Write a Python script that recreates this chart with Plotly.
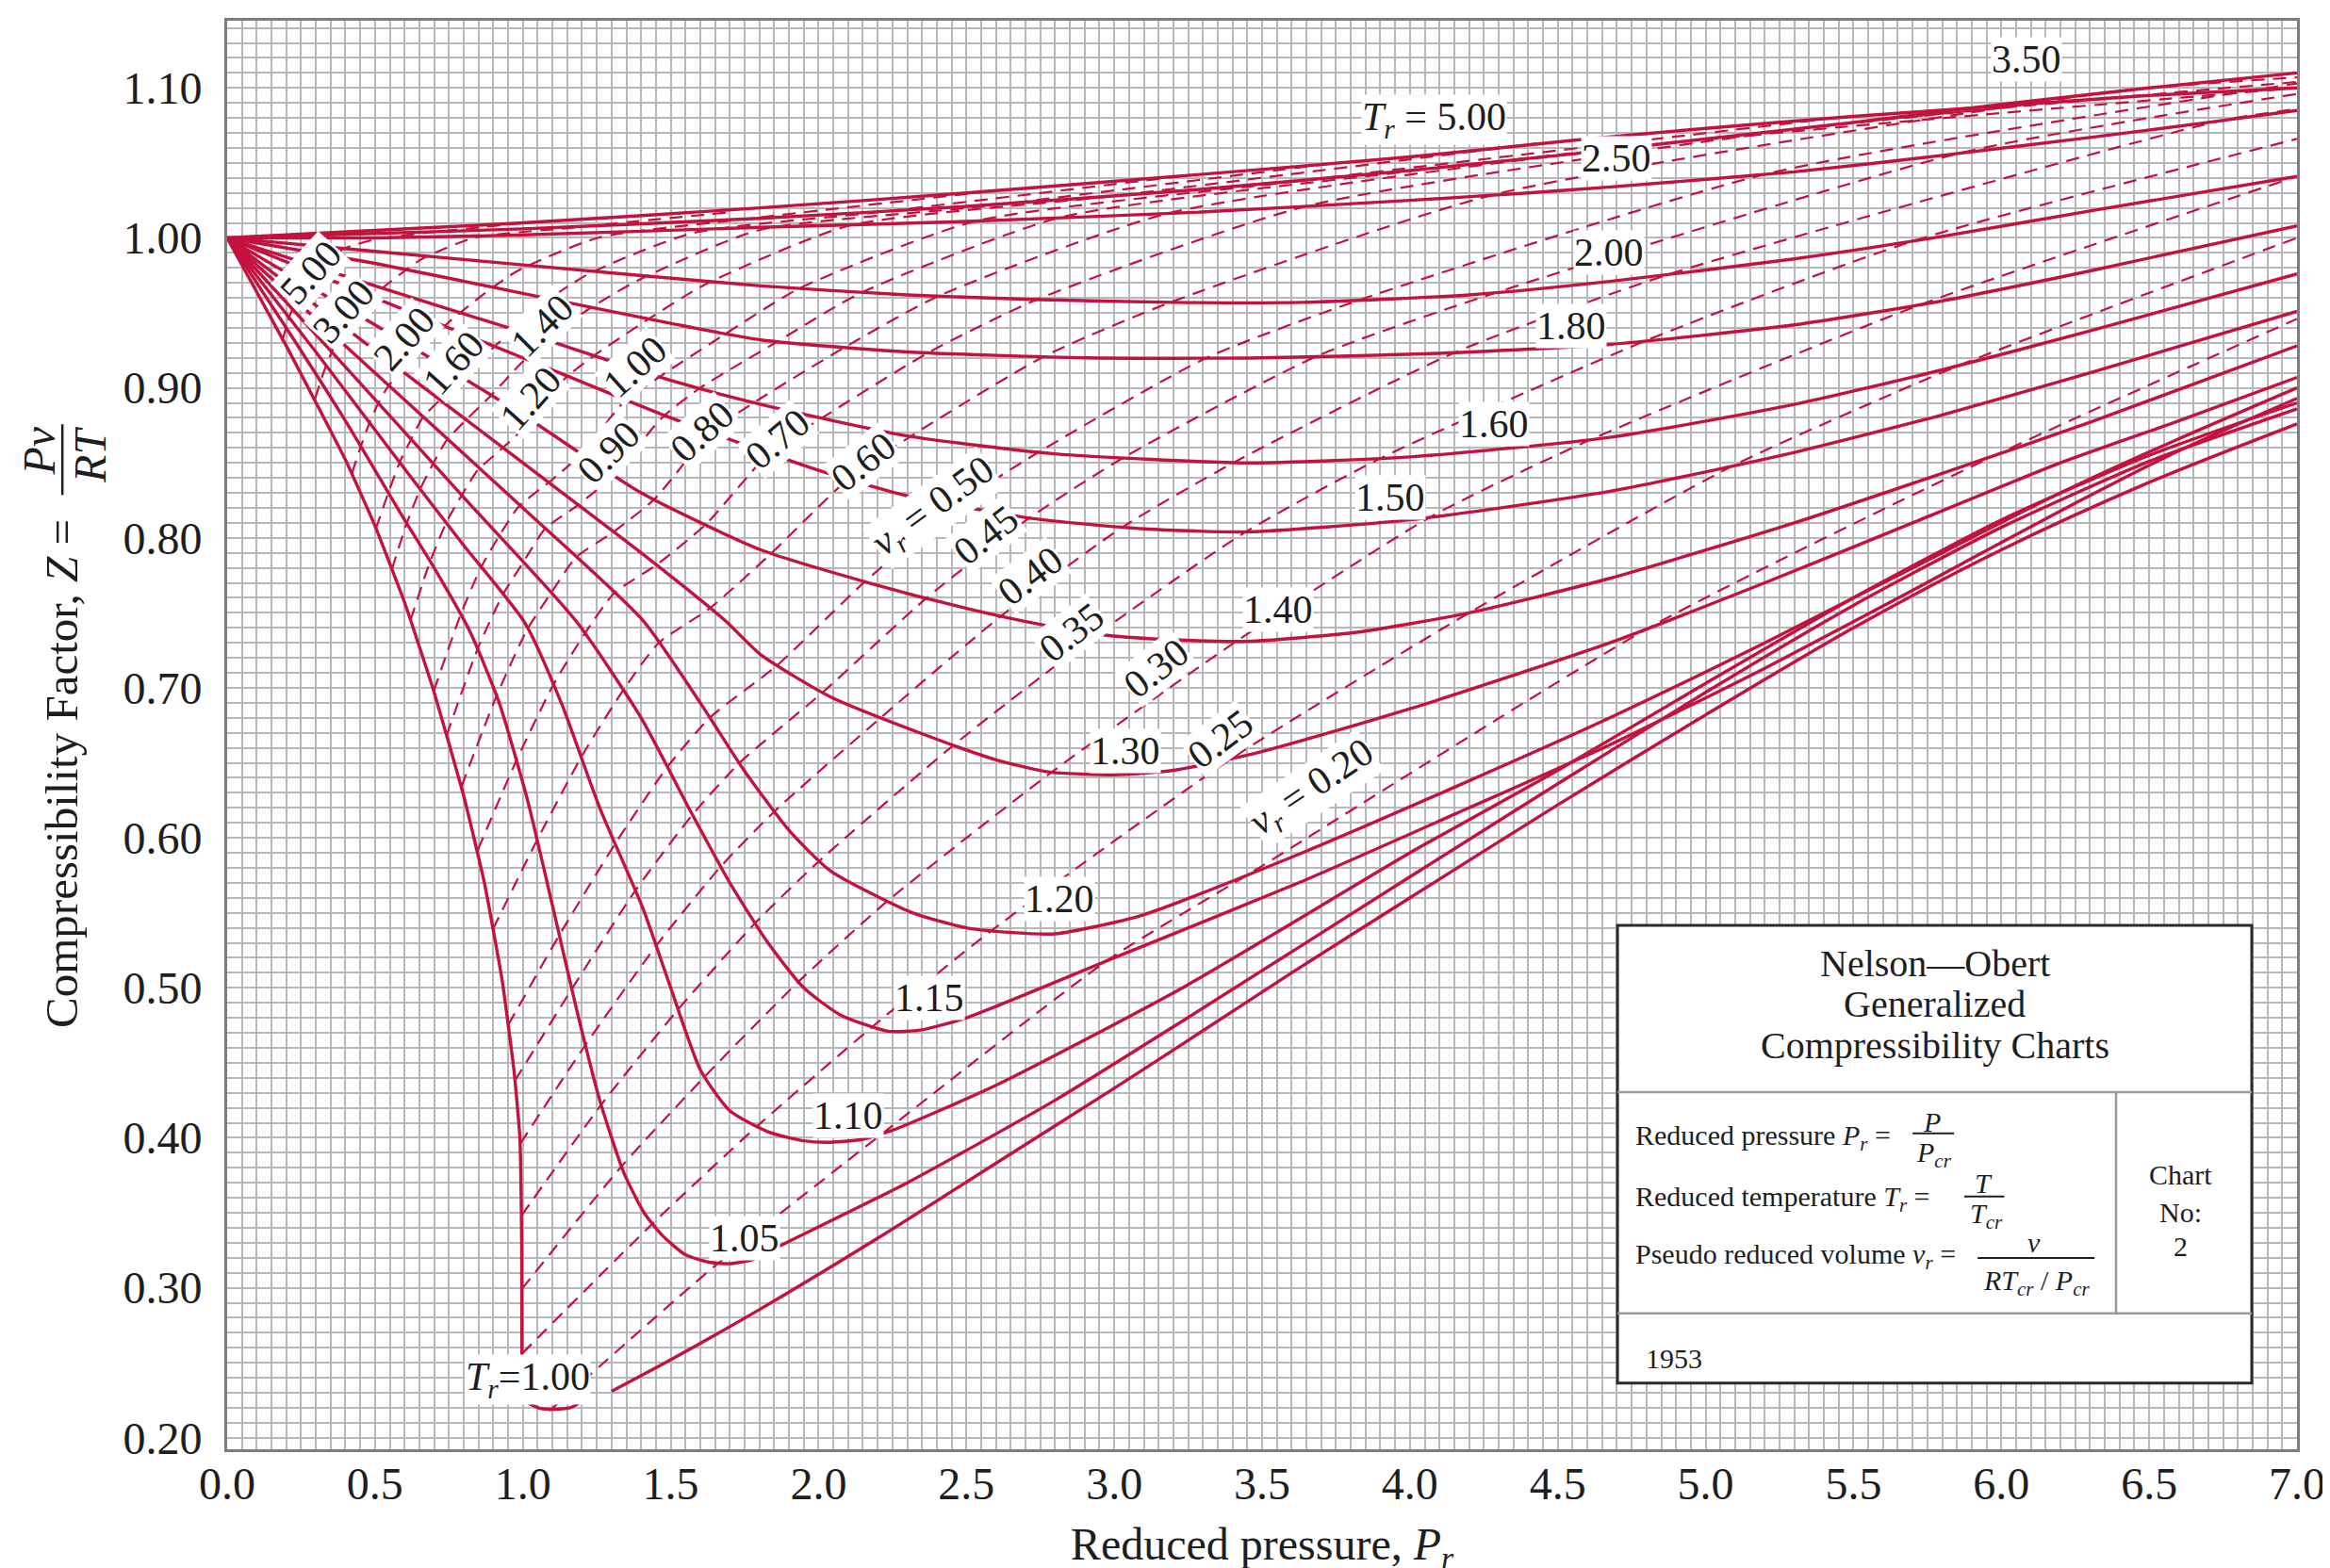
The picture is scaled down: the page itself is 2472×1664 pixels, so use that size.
import plotly.graph_objects as go

# ---------------- data: isotherms (solid) ----------------
tr100a_pr = [0, 0.2, 0.4, 0.5, 0.6, 0.7, 0.8, 0.87, 0.93, 0.97, 0.99, 0.996, 0.997]
tr100a_z = [1.0, 0.928, 0.852, 0.808, 0.757, 0.697, 0.628, 0.57, 0.505, 0.445, 0.40, 0.33, 0.255]
tr100b_pr = [1.02, 1.06, 1.11, 1.16, 1.19]
tr100b_z = [0.223, 0.2195, 0.219, 0.220, 0.223]
tr100c_pr = [1.30, 1.5, 1.805, 2.2, 2.6, 3.0, 3.235, 3.6, 4.0, 4.5, 5.0, 5.5, 6.0, 6.5, 7.0]
tr100c_z = [0.231, 0.252, 0.286, 0.333, 0.383, 0.433, 0.463, 0.51, 0.56, 0.622, 0.682, 0.74, 0.792, 0.837, 0.876]

tr105_pr = [0, 0.2, 0.4, 0.6, 0.7, 0.82, 0.92, 1.016, 1.1, 1.18, 1.26, 1.341, 1.41, 1.471, 1.55, 1.63, 1.70, 1.78, 1.88, 2.3, 2.8, 3.24, 4.0, 4.5, 5.0, 5.5, 6.0, 6.5, 7.0]
tr105_z = [1.0, 0.94, 0.878, 0.812, 0.78, 0.738, 0.69, 0.625, 0.555, 0.487, 0.425, 0.377, 0.35, 0.335, 0.322, 0.317, 0.316, 0.319, 0.329, 0.37, 0.425, 0.479, 0.574, 0.636, 0.697, 0.755, 0.807, 0.851, 0.886]

tr110_pr = [0, 0.3, 0.6, 0.8, 1.008, 1.13, 1.26, 1.406, 1.5, 1.601, 1.7, 1.829, 1.95, 2.04, 2.15, 2.25, 2.6, 3.24, 4.0, 4.5, 5.0, 5.5, 6.0, 6.5, 7.0]
tr110_z = [1.0, 0.924, 0.846, 0.795, 0.743, 0.69, 0.62, 0.553, 0.50, 0.445, 0.418, 0.404, 0.398, 0.397, 0.399, 0.405, 0.435, 0.501, 0.59, 0.645, 0.703, 0.76, 0.812, 0.855, 0.890]

tr115_pr = [0, 0.4, 0.8, 1.178, 1.4, 1.569, 1.7, 1.829, 1.95, 2.073, 2.235, 2.35, 2.5, 3.0, 3.636, 4.2, 4.676, 5.2, 5.7, 6.2, 6.6, 7.0]
tr115_z = [1.0, 0.914, 0.827, 0.745, 0.68, 0.617, 0.57, 0.53, 0.50, 0.482, 0.471, 0.472, 0.48, 0.52, 0.571, 0.62, 0.662, 0.713, 0.765, 0.818, 0.858, 0.893]

tr120_pr = [0, 0.5, 1.0, 1.406, 1.6, 1.748, 1.9, 2.04, 2.317, 2.5, 2.642, 2.8, 3.088, 3.636, 4.2, 4.676, 5.2, 5.7, 6.2, 6.6, 7.0]
tr120_z = [1.0, 0.91, 0.82, 0.745, 0.69, 0.645, 0.605, 0.578, 0.55, 0.54, 0.537, 0.536, 0.548, 0.59, 0.638, 0.68, 0.73, 0.78, 0.83, 0.866, 0.900]

tr130_pr = [0, 0.5, 1.0, 1.4, 1.683, 1.805, 2.04, 2.355, 2.6, 2.776, 3.0, 3.2, 3.49, 4.0, 4.676, 5.2, 5.7, 6.2, 6.6, 7.0]
tr130_z = [1.0, 0.925, 0.85, 0.79, 0.745, 0.722, 0.694, 0.669, 0.652, 0.644, 0.642, 0.645, 0.657, 0.686, 0.73, 0.77, 0.81, 0.85, 0.878, 0.907]

tr140_pr = [0, 0.5, 1.0, 1.4, 1.805, 2.17, 2.5, 2.758, 2.977, 3.2, 3.45, 3.82, 4.2, 4.676, 5.3, 5.8, 6.3, 7.0]
tr140_z = [1.0, 0.942, 0.882, 0.83, 0.792, 0.77, 0.753, 0.742, 0.735, 0.732, 0.731, 0.737, 0.75, 0.773, 0.81, 0.843, 0.877, 0.928]

tr150_pr = [0, 0.5, 1.0, 1.5, 2.0, 2.3, 2.72, 3.1, 3.45, 4.0, 4.676, 5.3, 5.8, 6.3, 7.0]
tr150_z = [1.0, 0.96, 0.92, 0.88, 0.845, 0.828, 0.813, 0.806, 0.804, 0.812, 0.831, 0.857, 0.882, 0.910, 0.951]

tr160_pr = [0, 0.5, 1.0, 1.5, 1.805, 2.3, 2.8, 3.45, 4.0, 4.676, 5.3, 5.8, 6.3, 7.0]
tr160_z = [1.0, 0.968, 0.937, 0.905, 0.889, 0.868, 0.856, 0.850, 0.854, 0.867, 0.889, 0.912, 0.938, 0.976]

tr180_pr = [0, 0.5, 1.0, 1.5, 1.805, 2.3, 2.905, 3.5, 4.1, 4.676, 5.3, 5.8, 6.3, 7.0]
tr180_z = [1.0, 0.983, 0.963, 0.943, 0.932, 0.924, 0.920, 0.920, 0.923, 0.929, 0.942, 0.958, 0.978, 1.008]

tr200_pr = [0, 0.5, 1.0, 1.805, 2.3, 2.72, 3.2, 3.636, 4.2, 4.676, 5.3, 5.8, 6.3, 7.0]
tr200_z = [1.0, 0.991, 0.982, 0.968, 0.962, 0.959, 0.957, 0.957, 0.962, 0.971, 0.986, 1.001, 1.018, 1.041]

tr250_pr = [0, 0.5, 1.0, 1.8, 2.5, 3.27, 4.0, 4.4, 4.68, 5.3, 5.8, 6.3, 6.7, 7.0]
tr250_z = [1.0, 1.0, 1.002, 1.007, 1.011, 1.017, 1.025, 1.030, 1.034, 1.044, 1.055, 1.067, 1.077, 1.085]

tr350_pr = [0, 0.5, 1.0, 1.8, 2.5, 3.27, 4.0, 4.55, 5.0, 5.5, 6.0, 6.5, 7.0]
tr350_z = [1.0, 1.003, 1.006, 1.013, 1.021, 1.032, 1.045, 1.056, 1.066, 1.077, 1.089, 1.100, 1.110]

tr500_pr = [0, 0.5, 1.0, 1.8, 2.5, 3.27, 4.0, 4.55, 5.0, 5.5, 6.0, 6.5, 7.0]
tr500_z = [1.0, 1.005, 1.010, 1.020, 1.030, 1.042, 1.054, 1.065, 1.073, 1.081, 1.088, 1.095, 1.100]

# ---------------- data: pseudo reduced volume lines (dashed) ----------------
vr500_pr = [0.186, 0.208, 0.230, 0.250, 0.271, 0.293, 0.314, 0.356, 0.397, 0.5, 0.702, 1.01]
vr500_z = [0.931, 0.946, 0.957, 0.964, 0.970, 0.976, 0.980, 0.987, 0.993, 0.999, 1.004, 1.01]
vr300_pr = [0.298, 0.317, 0.335, 0.354, 0.373, 0.407, 0.442, 0.481, 0.516, 0.587, 0.659, 0.835, 1.175, 1.695]
vr300_z = [0.893, 0.905, 0.915, 0.924, 0.932, 0.941, 0.950, 0.958, 0.965, 0.976, 0.986, 1.0, 1.007, 1.017]
vr200_pr = [0.422, 0.452, 0.482, 0.512, 0.541, 0.592, 0.646, 0.708, 0.762, 0.871, 0.982, 1.253, 1.772, 2.575]
vr200_z = [0.843, 0.861, 0.877, 0.890, 0.900, 0.912, 0.924, 0.936, 0.946, 0.963, 0.978, 1.0, 1.013, 1.031]
vr160_pr = [0.503, 0.545, 0.585, 0.623, 0.661, 0.724, 0.792, 0.872, 0.941, 1.080, 1.223, 1.57, 2.22, 3.26]
vr160_z = [0.806, 0.830, 0.851, 0.866, 0.880, 0.893, 0.907, 0.922, 0.934, 0.958, 0.976, 1.003, 1.0175, 1.042]
vr140_pr = [0.557, 0.608, 0.654, 0.698, 0.742, 0.815, 0.893, 0.987, 1.066, 1.226, 1.393, 1.795, 2.555, 3.75]
vr140_z = [0.779, 0.810, 0.833, 0.850, 0.865, 0.880, 0.895, 0.915, 0.930, 0.953, 0.972, 1.005, 1.021, 1.050]
vr120_pr = [0.62, 0.686, 0.743, 0.795, 0.847, 0.932, 1.023, 1.136, 1.23, 1.418, 1.617, 2.1, 3.0, 4.43]
vr120_z = [0.745, 0.784, 0.811, 0.829, 0.845, 0.860, 0.877, 0.905, 0.920, 0.945, 0.969, 1.008, 1.028, 1.063]
vr100_pr = [0.699, 0.79, 0.858, 0.922, 0.987, 1.088, 1.199, 1.339, 1.452, 1.685, 1.932, 2.528, 3.63, 5.395]
vr100_z = [0.698, 0.749, 0.780, 0.802, 0.821, 0.837, 0.856, 0.890, 0.906, 0.936, 0.966, 1.011, 1.038, 1.079]
vr090_pr = [0.742, 0.847, 0.932, 1.002, 1.075, 1.187, 1.309, 1.47, 1.60, 1.862, 2.14, 2.815, 4.07, 6.055]
vr090_z = [0.668, 0.726, 0.762, 0.784, 0.806, 0.822, 0.842, 0.880, 0.900, 0.931, 0.963, 1.0135, 1.046, 1.088]
vr080_pr = [0.792, 0.912, 1.015, 1.098, 1.18, 1.307, 1.446, 1.633, 1.78, 2.088, 2.403, 3.175, 4.627, 7.0]
vr080_z = [0.634, 0.695, 0.739, 0.764, 0.787, 0.804, 0.826, 0.870, 0.890, 0.927, 0.961, 1.016, 1.058, 1.100]
vr070_pr = [0.848, 0.977, 1.103, 1.209, 1.308, 1.452, 1.619, 1.836, 2.012, 2.376, 2.74, 3.647, 5.37, 7.0]
vr070_z = [0.592, 0.651, 0.702, 0.736, 0.763, 0.782, 0.809, 0.857, 0.880, 0.924, 0.959, 1.021, 1.074, 1.104]
vr060_pr = [0.8985, 1.047, 1.198, 1.338, 1.46, 1.632, 1.842, 2.099, 2.314, 2.763, 3.19, 4.287, 6.405, 7.0]
vr060_z = [0.539, 0.598, 0.654, 0.698, 0.730, 0.753, 0.790, 0.839, 0.868, 0.921, 0.957, 1.029, 1.098, 1.107]
vr050_pr = [0.95, 1.123, 1.312, 1.488, 1.632, 1.86, 2.158, 2.468, 2.743, 3.312, 3.835, 5.213, 7.0]
vr050_z = [0.475, 0.535, 0.596, 0.647, 0.680, 0.715, 0.771, 0.822, 0.857, 0.920, 0.959, 1.043, 1.103]
vr045_pr = [0.973, 1.165, 1.381, 1.572, 1.733, 2.014, 2.366, 2.711, 3.036, 3.684, 4.283, 5.87, 7.0]
vr045_z = [0.438, 0.499, 0.565, 0.615, 0.650, 0.697, 0.760, 0.813, 0.854, 0.921, 0.963, 1.057, 1.096]
vr040_pr = [0.991, 1.212, 1.451, 1.67, 1.853, 2.21, 2.618, 3.027, 3.402, 4.157, 4.88, 6.74, 7.0]
vr040_z = [0.396, 0.462, 0.528, 0.581, 0.618, 0.680, 0.748, 0.807, 0.850, 0.924, 0.976, 1.078, 1.086]
vr035_pr = [0.995, 1.265, 1.527, 1.785, 2.005, 2.458, 2.945, 3.445, 3.90, 4.792, 5.703, 7.0]
vr035_z = [0.348, 0.422, 0.486, 0.543, 0.585, 0.662, 0.736, 0.804, 0.853, 0.931, 0.998, 1.066]
vr030_pr = [0.996, 1.334, 1.616, 1.932, 2.234, 2.79, 3.413, 4.07, 4.617, 5.734, 7.0]
vr030_z = [0.299, 0.381, 0.441, 0.504, 0.558, 0.644, 0.731, 0.814, 0.866, 0.956, 1.041]
vr025_pr = [0.997, 1.44, 1.794, 2.182, 2.584, 3.398, 4.2, 5.092, 5.858, 7.0]
vr025_z = [0.256, 0.343, 0.408, 0.474, 0.538, 0.653, 0.75, 0.848, 0.915, 1.0]
vr020_pr = [1.09, 1.661, 2.217, 2.982, 3.457, 4.817, 5.989, 7.0]
vr020_z = [0.218, 0.3165, 0.403, 0.519, 0.576, 0.741, 0.856, 0.946]

# ---------------- labels ----------------
tr_label_text = ["<i>T</i><sub><i>r</i></sub> = 5.00", "3.50", "2.50", "2.00", "1.80", "1.60", "1.50",
                 "1.40", "1.30", "1.20", "1.15", "1.10", "1.05", "<i>T</i><sub><i>r</i></sub>=1.00"]
tr_label_pr = [4.083, 6.085, 4.697, 4.672, 4.546, 4.284, 3.932, 3.555, 3.037, 2.816, 2.374, 2.102, 1.75, 1.016]
tr_label_z = [1.079, 1.119, 1.053, 0.990, 0.941, 0.876, 0.827, 0.752, 0.658, 0.559, 0.493, 0.415, 0.333, 0.239]

vr_label_text = ["5.00", "3.00", "2.00", "1.60", "1.40", "1.20", "1.00", "0.90", "0.80", "0.70", "0.60",
                 "<i>v</i><sub><i>r</i></sub> = 0.50", "0.45", "0.40", "0.35", "0.30", "0.25",
                 "<i>v</i><sub><i>r</i></sub> = 0.20"]
vr_label_pr = [0.283, 0.395, 0.60, 0.765, 1.066, 1.025, 1.38, 1.29, 1.606, 1.861, 2.152, 2.39, 2.565, 2.716, 2.856, 3.143, 3.36, 3.67]
vr_label_z = [0.977, 0.951, 0.933, 0.917, 0.942, 0.893, 0.914, 0.857, 0.871, 0.866, 0.851, 0.820, 0.802, 0.775, 0.737, 0.713, 0.666, 0.633]
vr_label_angle = [-48, -48, -48, -48, -45, -48, -42, -45, -42, -40, -38, -36, -38, -37, -38, -38, -37, -34]

x_ticks = [0.0, 0.5, 1.0, 1.5, 2.0, 2.5, 3.0, 3.5, 4.0, 4.5, 5.0, 5.5, 6.0, 6.5, 7.0]
y_ticks = [0.20, 0.30, 0.40, 0.50, 0.60, 0.70, 0.80, 0.90, 1.00, 1.10]

# ---------------- styling ----------------
RED = "#c4123f"
FONT = "Liberation Serif"
INK = "#1e1e1e"
GRID = "#b8b8b8"

fig = go.Figure()

dashed = [(vr500_pr, vr500_z), (vr300_pr, vr300_z), (vr200_pr, vr200_z), (vr160_pr, vr160_z),
          (vr140_pr, vr140_z), (vr120_pr, vr120_z), (vr100_pr, vr100_z), (vr090_pr, vr090_z),
          (vr080_pr, vr080_z), (vr070_pr, vr070_z), (vr060_pr, vr060_z), (vr050_pr, vr050_z),
          (vr045_pr, vr045_z), (vr040_pr, vr040_z), (vr035_pr, vr035_z), (vr030_pr, vr030_z),
          (vr025_pr, vr025_z), (vr020_pr, vr020_z)]
for px, pz in dashed:
    fig.add_trace(go.Scatter(x=px, y=pz, mode="lines", hoverinfo="skip", showlegend=False,
                             line=dict(color=RED, width=2.2, dash="14px,9px", shape="spline", smoothing=0.6)))

solid = [(tr100a_pr, tr100a_z, 0.4), (tr100b_pr, tr100b_z, 0.8), (tr100c_pr, tr100c_z, 0.8),
         (tr105_pr, tr105_z, 0.6), (tr110_pr, tr110_z, 0.6), (tr115_pr, tr115_z, 0.6),
         (tr120_pr, tr120_z, 0.6), (tr130_pr, tr130_z, 0.6), (tr140_pr, tr140_z, 0.6),
         (tr150_pr, tr150_z, 0.6), (tr160_pr, tr160_z, 0.6), (tr180_pr, tr180_z, 0.6),
         (tr200_pr, tr200_z, 0.6), (tr250_pr, tr250_z, 0.6), (tr350_pr, tr350_z, 0.6),
         (tr500_pr, tr500_z, 0.6)]
for px, pz, sm in solid:
    fig.add_trace(go.Scatter(x=px, y=pz, mode="lines", hoverinfo="skip", showlegend=False,
                             line=dict(color=RED, width=3.4, shape="spline", smoothing=sm)))

ann = []
for t, x, y in zip(tr_label_text, tr_label_pr, tr_label_z):
    ann.append(dict(x=x, y=y, xref="x", yref="y", text=t, showarrow=False, bgcolor="white",
                    borderpad=0, xanchor="center", yanchor="middle",
                    font=dict(family=FONT, size=42, color=INK)))
for t, x, y, a in zip(vr_label_text, vr_label_pr, vr_label_z, vr_label_angle):
    ann.append(dict(x=x, y=y, xref="x", yref="y", text=t, showarrow=False, bgcolor="white",
                    borderpad=0, textangle=a, xanchor="center", yanchor="middle",
                    font=dict(family=FONT, size=42, color=INK)))

# y-axis fraction Pv / RT
ann.append(dict(x=-0.0910, y=0.6990, xref="paper", yref="paper", text="<i>Pv</i>", showarrow=False,
                textangle=-90, xanchor="center", yanchor="middle",
                font=dict(family=FONT, size=48, color=INK)))
ann.append(dict(x=-0.0660, y=0.6960, xref="paper", yref="paper", text="<i>RT</i>", showarrow=False,
                textangle=-90, xanchor="center", yanchor="middle",
                font=dict(family=FONT, size=48, color=INK)))

# info box texts (data coordinates)
def box_text(x, y, text, size=30, anchor="center"):
    ann.append(dict(x=x, y=y, xref="x", yref="y", text=text, showarrow=False, xanchor=anchor,
                    yanchor="middle", font=dict(family=FONT, size=size, color=INK)))

box_text(5.775, 0.5165, "Nelson\u2014Obert", 40)
box_text(5.775, 0.4893, "Generalized", 40)
box_text(5.775, 0.4617, "Compressibility Charts", 40)
box_text(4.755, 0.4004, "Reduced pressure <i>P</i><sub><i>r</i></sub> =", 30, "left")
box_text(5.765, 0.4108, "<i>P</i>", 30)
box_text(5.772, 0.3888, "<i>P</i><sub><i>cr</i></sub>", 30)
box_text(4.755, 0.3596, "Reduced temperature <i>T</i><sub><i>r</i></sub> =", 30, "left")
box_text(5.94, 0.3698, "<i>T</i>", 30)
box_text(5.95, 0.3483, "<i>T</i><sub><i>cr</i></sub>", 30)
box_text(4.755, 0.3212, "Pseudo reduced volume <i>v</i><sub><i>r</i></sub> =", 30, "left")
box_text(6.11, 0.3303, "<i>v</i>", 30)
box_text(6.12, 0.3038, "<i>RT</i><sub><i>cr</i></sub> / <i>P</i><sub><i>cr</i></sub>", 30)
box_text(6.605, 0.3752, "Chart", 30)
box_text(6.605, 0.3501, "No:", 30)
box_text(6.605, 0.3275, "2", 30)
box_text(4.893, 0.2528, "1953", 30)

shapes = [
    dict(type="rect", xref="x", yref="y", x0=4.702, x1=6.847, y0=0.2364, y1=0.5417,
         fillcolor="white", line=dict(color="#2a2a2a", width=3), layer="above"),
    dict(type="line", xref="x", yref="y", x0=4.702, x1=6.847, y0=0.4305, y1=0.4305,
         line=dict(color="#9a9a9a", width=2.5), layer="above"),
    dict(type="line", xref="x", yref="y", x0=4.702, x1=6.847, y0=0.2829, y1=0.2829,
         line=dict(color="#9a9a9a", width=2.5), layer="above"),
    dict(type="line", xref="x", yref="y", x0=6.388, x1=6.388, y0=0.2829, y1=0.4305,
         line=dict(color="#9a9a9a", width=2.5), layer="above"),
    dict(type="line", xref="x", yref="y", x0=5.700, x1=5.840, y0=0.4030, y1=0.4030,
         line=dict(color=INK, width=2), layer="above"),
    dict(type="line", xref="x", yref="y", x0=5.875, x1=6.010, y0=0.3608, y1=0.3608,
         line=dict(color=INK, width=2), layer="above"),
    dict(type="line", xref="x", yref="y", x0=5.920, x1=6.315, y0=0.3198, y1=0.3198,
         line=dict(color=INK, width=2), layer="above"),
    dict(type="line", xref="paper", yref="paper", x0=-0.0796, x1=-0.0796, y0=0.6680, y1=0.7175,
         line=dict(color=INK, width=2.5)),
]

fig.update_layout(
    width=2472, height=1664,
    margin=dict(l=233, r=43, t=14, b=134),
    paper_bgcolor="white", plot_bgcolor="white",
    font=dict(family=FONT, color=INK),
    showlegend=False,
    annotations=ann, shapes=shapes,
    xaxis=dict(range=[0, 7], tickvals=x_ticks, ticktext=[f"{v:.1f}" for v in x_ticks],
               showgrid=True, gridcolor=GRID, gridwidth=1.8,
               minor=dict(dtick=0.05, tick0=0, showgrid=True, gridcolor=GRID, gridwidth=1.8),
               showline=True, linecolor="#7d7d7d", linewidth=3, mirror=True,
               ticks="", ticklabelstandoff=-8, zeroline=False, automargin=False,
               tickfont=dict(family=FONT, size=48, color=INK),
               title=dict(text="Reduced pressure, <i>P</i><sub><i>r</i></sub>", standoff=24,
                          font=dict(family=FONT, size=48, color=INK))),
    yaxis=dict(range=[0.1923, 1.1448], tickvals=y_ticks, ticktext=[f"{v:.2f}" for v in y_ticks],
               showgrid=True, gridcolor=GRID, gridwidth=1.8,
               minor=dict(dtick=0.01, tick0=0.2, showgrid=True, gridcolor=GRID, gridwidth=1.8),
               showline=True, linecolor="#7d7d7d", linewidth=3, mirror=True,
               ticks="", ticklabelstandoff=14, zeroline=False, automargin=False,
               tickfont=dict(family=FONT, size=48, color=INK),
               title=dict(text="Compressibility Factor, <i>Z</i> =<span style=\"color:rgba(0,0,0,0)\">Mm</span>",
                          standoff=33, font=dict(family=FONT, size=49, color=INK))),
)

fig.write_html("out.html")
